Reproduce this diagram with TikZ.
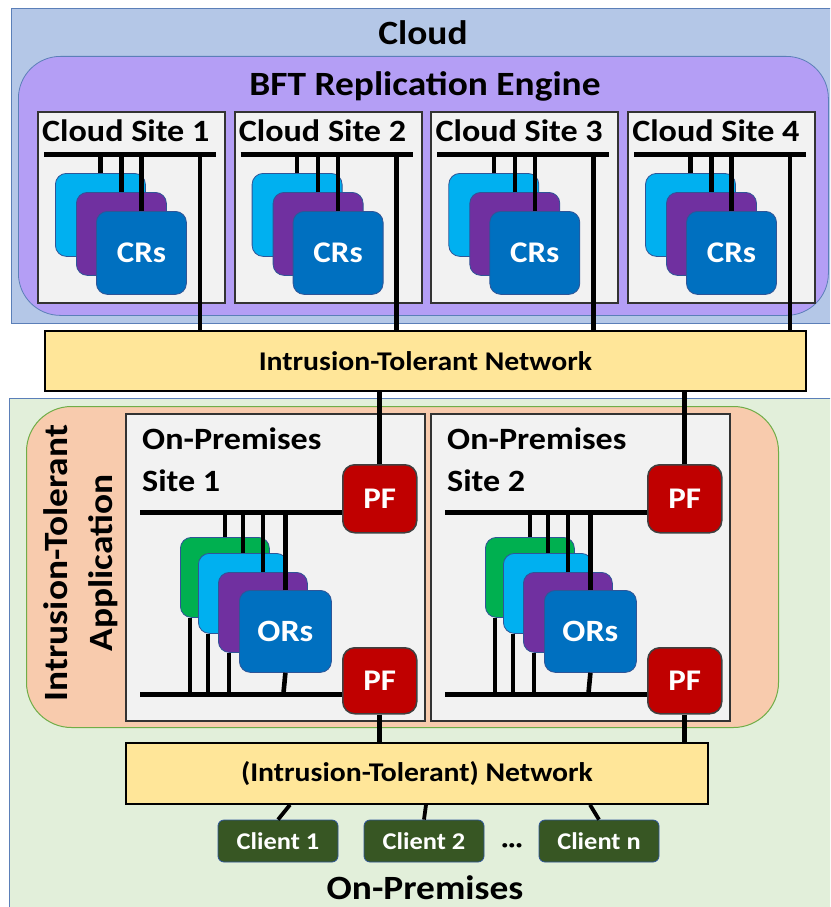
\documentclass[tikz,border=0pt]{standalone}
\usepackage{fontspec}
\setmainfont{Carlito}[FakeStretch=1.1]
\definecolor{cloudbg}{HTML}{B4C7E7}
\definecolor{cloudline}{HTML}{5B7FB8}
\definecolor{bftc}{HTML}{B49EF5}
\definecolor{sitegray}{HTML}{F2F2F2}
\definecolor{cyanc}{HTML}{00B0F0}
\definecolor{purc}{HTML}{7030A0}
\definecolor{bluec}{HTML}{0070C0}
\definecolor{greenc}{HTML}{00B050}
\definecolor{cardline}{HTML}{2F5597}
\definecolor{netyellow}{HTML}{FFE699}
\definecolor{onpremc}{HTML}{E2EFDA}
\definecolor{apporange}{HTML}{F8CBAD}
\definecolor{appline}{HTML}{70AD47}
\definecolor{pfred}{HTML}{C00000}
\definecolor{clientc}{HTML}{375623}
\begin{document}
\begin{tikzpicture}[x=1pt,y=-1pt,font=\bfseries,
  region/.style={inner sep=0pt,anchor=north west},
  sitebox/.style={draw=black!80,line width=1.8pt,fill=sitegray,inner sep=0pt,anchor=north west},
  card/.style={draw=cardline,line width=0.8pt,rounded corners=11pt,inner sep=0pt,anchor=north west,minimum width=90pt,minimum height=83pt},
  ocard/.style={card,minimum width=89pt,minimum height=80pt},
  bus/.style={line width=5pt},
  wire/.style={line width=4.6pt},
  netbox/.style={draw=black,line width=1.8pt,fill=netyellow,inner sep=0pt,anchor=north west},
  pfbox/.style={fill=pfred,draw=black!75,line width=1.5pt,rounded corners=12pt,minimum width=74pt,minimum height=68pt,text=white,font=\bfseries\fontsize{30}{30}\selectfont,anchor=north west,inner sep=0pt},
  client/.style={fill=clientc,draw=cardline,line width=0.8pt,rounded corners=6pt,minimum width=120pt,minimum height=42pt,text=white,font=\bfseries\fontsize{24}{24}\selectfont,inner sep=0pt},
  bigtxt/.style={font=\bfseries\fontsize{34}{40}\selectfont,inner sep=0pt}
]
\clip (0,0) rectangle (830,907);
% backgrounds
\node[region,fill=cloudbg,draw=cloudline,line width=0.8pt,minimum width=840pt,minimum height=315pt] (cloud) at (11,8) {};
\node[region,fill=bftc,draw=cloudline,line width=0.8pt,rounded corners=42pt,minimum width=810pt,minimum height=259pt] (bft) at (18,56) {};
\node[region,fill=onpremc,draw=cloudline,line width=0.8pt,minimum width=840pt,minimum height=530pt] (onprem) at (9,398) {};
\node[region,fill=apporange,draw=appline,line width=1pt,rounded corners=45pt,minimum width=752pt,minimum height=321pt] (approw) at (26,406) {};
% titles
\node[bigtxt] (tcloud) at (423,33) {Cloud};
\node[bigtxt] (tbft) at (425,86) {BFT Replication Engine};
\node[bigtxt,rotate=90,align=center,font=\bfseries\fontsize{34}{45}\selectfont] (tapp) at (80.5,563) {Intrusion-Tolerant\\Application};
\node[bigtxt] (tonprem) at (425,888) {On-Premises};
% networks
\node[netbox,minimum width=761pt,minimum height=60pt,font=\bfseries\fontsize{27}{27}\selectfont] (itn) at (44,330) {Intrusion-Tolerant Network};
\node[netbox,minimum width=582pt,minimum height=61pt,font=\bfseries\fontsize{27}{27}\selectfont] (net) at (125,742) {(Intrusion-Tolerant) Network};
% cloud sites
\foreach \i [evaluate=\i as \dx using 196.7*(\i-1)] in {1,...,4}{
  \node[sitebox,minimum width=187pt,minimum height=191pt] (cs\i) at (37+\dx,111) {};
  \node[anchor=west,inner sep=0pt,font=\bfseries\fontsize{31}{31}\selectfont] (cl\i) at (42+\dx,131) {Cloud Site \i};
  \coordinate (bL\i) at (44+\dx,154);
  \coordinate (bR\i) at (216+\dx,154);
  \coordinate (md\i) at (200+\dx,154);
  \draw[bus] (bL\i) -- (bR\i);
  \node[card,fill=cyanc] (ca\i) at (55+\dx,173) {};
  \node[card,fill=purc] (cb\i) at (76+\dx,192) {};
  \node[card,fill=bluec,text=white,font=\bfseries\fontsize{30}{30}\selectfont] (cc\i) at (96+\dx,211) {CRs};
  \draw[wire] (ca\i.north) -- (ca\i.north |- bL\i);
  \draw[wire] (cb\i.north) -- (cb\i.north |- bL\i);
  \draw[wire] (cc\i.north) -- (cc\i.north |- bL\i);
  \draw[wire] (md\i) -- (md\i |- itn.north);
}
% on-premises sites
\foreach \j [evaluate=\j as \dx using 305*(\j-1)] in {1,2}{
  \node[sitebox,minimum width=299pt,minimum height=307pt] (os\j) at (125+\dx,413) {};
  \node[anchor=west,inner sep=0pt,font=\bfseries\fontsize{31}{31}\selectfont] (olA\j) at (142+\dx,439) {On-Premises};
  \node[anchor=west,inner sep=0pt,font=\bfseries\fontsize{31}{31}\selectfont] (olB\j) at (142+\dx,481) {Site \j};
  \node[pfbox] (pu\j) at (342+\dx,464) {PF};
  \node[pfbox,minimum height=66pt] (pd\j) at (342+\dx,647) {PF};
  \coordinate (ubL\j) at (140+\dx,512);
  \coordinate (lbL\j) at (140+\dx,694);
  \draw[bus] (ubL\j) -- (ubL\j -| pu\j.west);
  \draw[bus] (lbL\j) -- (lbL\j -| pd\j.west);
  \node[ocard,fill=greenc] (og\j) at (180+\dx,537) {};
  \node[ocard,fill=cyanc] (oa\j) at (198+\dx,553) {};
  \node[ocard,fill=purc] (ob\j) at (218+\dx,572) {};
  \node[ocard,fill=bluec,minimum width=92pt,minimum height=82pt,text=white,font=\bfseries\fontsize{31}{31}\selectfont] (oc\j) at (239+\dx,590) {ORs};
  \draw[wire] (og\j.north) -- (og\j.north |- ubL\j);
  \draw[wire] (oa\j.north) -- (oa\j.north |- ubL\j);
  \draw[wire] (ob\j.north) -- (ob\j.north |- ubL\j);
  \draw[wire] (oc\j.north) -- (oc\j.north |- ubL\j);
  \draw[wire] ([xshift=10pt]og\j.south west) -- ([xshift=10pt]og\j.south west |- lbL\j);
  \draw[wire] ([xshift=10pt]oa\j.south west) -- ([xshift=10pt]oa\j.south west |- lbL\j);
  \draw[wire] ([xshift=11pt]ob\j.south west) -- ([xshift=11pt]ob\j.south west |- lbL\j);
  \draw[wire] (oc\j.south) -- ([xshift=-2pt]oc\j.south |- lbL\j);
  \draw[wire] (pu\j.north) -- (pu\j.north |- itn.south);
  \draw[wire] (pd\j.south) -- (pd\j.south |- net.north);
}
% clients
\node[client] (c1) at (278,841) {Client 1};
\node[client] (c2) at (424,841) {Client 2};
\node[client] (cn) at (599,841) {Client n};
\node[inner sep=0pt,font=\bfseries\fontsize{24}{24}\selectfont] (dots) at (512,848) {···};
\draw[line width=3.8pt] (c1.north) -- ([xshift=12pt]c1.north |- net.south);
\draw[line width=3.8pt] (c2.north) -- ([xshift=2pt]c2.north |- net.south);
\draw[line width=3.8pt] (cn.north) -- ([xshift=-9pt]cn.north |- net.south);
\end{tikzpicture}
\end{document}
